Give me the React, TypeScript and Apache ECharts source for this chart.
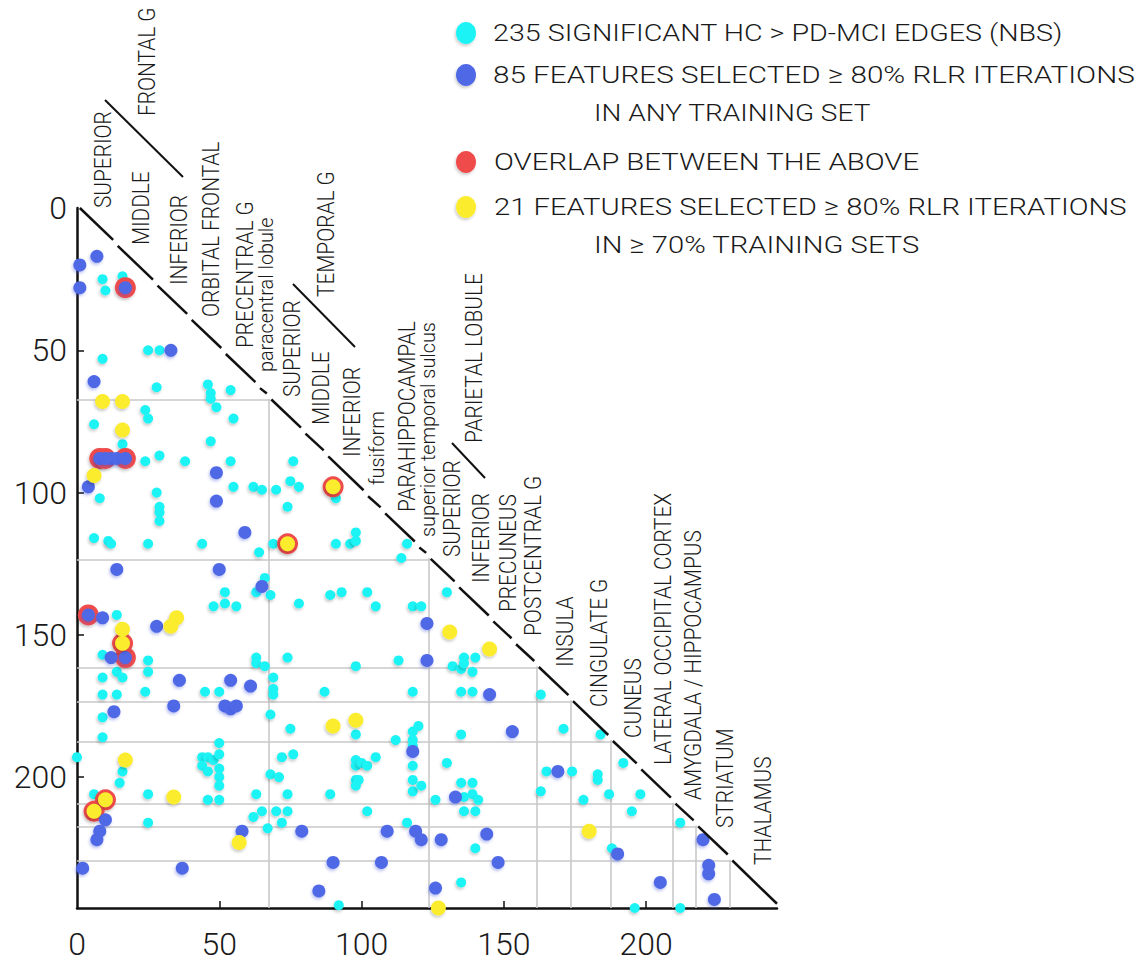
import React, { useEffect, useRef } from "react";
import * as echarts from "echarts";

// ---------- DATA ----------
const axisTicks = [0, 50, 100, 150, 200];
const innerTicks = [50, 100, 150, 200];
const matrixSize = 246;
// region boundaries with grid lines (between node indices)
const gridBounds = [67.5, 123.5, 161.5, 173.5, 187.5, 209.5, 217.5, 229.5];
// sub-region boundaries (breaks in the diagonal)
const diagBreaks = [0, 14, 28, 40, 52, 64, 68, 80, 88, 102, 108, 120, 124, 134, 146, 154, 162, 174, 188, 198, 210, 218, 230, 246];

const cyanEdges: number[][] = [
  [16, 24], [9, 25], [10, 29], [25, 50], [29, 50], [9, 53], [28, 63], [46, 62], [47, 65], [47, 67], [49, 70], [54, 64],
  [24, 71], [25, 74], [6, 76], [55, 74], [16, 83], [47, 82], [24, 89], [29, 87], [38, 89], [54, 89], [76, 89],
  [8, 102], [28, 100], [29, 105], [29, 107], [29, 110], [55, 98], [62, 98], [65, 99], [70, 99], [75, 96], [78, 98],
  [74, 105], [91, 102], [6, 116], [11, 117], [12, 118], [25, 118], [44, 118], [64, 121], [69, 118], [91, 118],
  [66, 130], [63, 135], [68, 136], [78, 139], [89, 136], [93, 135], [52, 135], [52, 139], [56, 140], [48, 140],
  [14, 143], [9, 157], [25, 159], [25, 163], [63, 158], [63, 160], [66, 161], [74, 158], [14, 163], [16, 165],
  [9, 165], [69, 165], [69, 169], [69, 171], [9, 171], [14, 171], [24, 170], [45, 170], [50, 170], [87, 170],
  [9, 179], [68, 178], [75, 183],
  [9, 186], [50, 188], [0, 193], [16, 198], [15, 202], [44, 193], [46, 193], [48, 194], [50, 192], [44, 196],
  [46, 198], [50, 197], [50, 200], [50, 203], [72, 193], [76, 192], [68, 199], [71, 200], [6, 206], [25, 206],
  [46, 208], [50, 208], [63, 206], [74, 206], [89, 206], [65, 212], [62, 214], [70, 212], [74, 212], [72, 216],
  [67, 218], [25, 216], [92, 245],
  [96, 118], [98, 114], [98, 117], [116, 118], [114, 123], [102, 135], [105, 140], [118, 140], [121, 140],
  [130, 135], [98, 161], [113, 159], [132, 161], [136, 158], [135, 162], [139, 163], [140, 158], [136, 160],
  [118, 170], [135, 170], [139, 170], [163, 171], [120, 182],
  [98, 185], [112, 187], [118, 184], [118, 187], [118, 189], [118, 196], [135, 185], [98, 194], [98, 196],
  [100, 195], [102, 196], [98, 201], [99, 201], [98, 203], [105, 193], [118, 201], [118, 205], [121, 203],
  [130, 195], [135, 202], [139, 202], [139, 206], [141, 208], [136, 207], [126, 208], [136, 212], [140, 212],
  [102, 212], [163, 205], [165, 198], [116, 216], [140, 225], [135, 237],
  [171, 183], [184, 185], [174, 198], [183, 199], [183, 201], [192, 195], [178, 208], [187, 206], [198, 206],
  [195, 212], [188, 225], [212, 216], [196, 246], [212, 246],
];

const blueFeatures: number[][] = [
  [7, 17], [1, 20], [1, 28], [33, 50], [6, 61], [12, 88], [14, 88], [49, 93], [4, 98], [49, 103], [59, 114],
  [14, 127], [50, 127], [65, 133], [9, 144], [28, 147], [12, 158], [36, 166], [54, 166], [61, 168], [34, 175],
  [52, 175], [54, 176], [56, 175], [13, 177], [10, 215], [8, 219], [7, 222], [58, 219], [79, 219], [2, 232],
  [37, 232], [90, 230], [85, 240], [123, 146], [123, 159], [145, 171], [153, 184], [118, 191], [133, 207],
  [169, 198], [109, 219], [119, 219], [121, 222], [128, 222], [144, 220], [148, 230], [107, 230], [126, 239],
  [190, 227], [220, 222], [222, 231], [222, 234], [205, 237], [224, 243],
];

const overlapBlue: number[][] = [[17, 28], [8, 88], [10, 88], [17, 88], [4, 143], [17, 158]];
const overlapYellow: number[][] = [[90, 98], [74, 118], [16, 153], [10, 208], [6, 212]];
const yellowFeatures: number[][] = [
  [9, 68], [16, 68], [16, 78], [6, 94], [35, 144], [33, 147], [16, 148], [90, 182], [17, 194], [34, 207],
  [57, 223], [131, 149], [145, 155], [98, 180], [127, 246], [180, 219],
];

const legendLines = [
  "235 SIGNIFICANT HC > PD-MCI EDGES (NBS)",
  "85 FEATURES SELECTED \u2265 80% RLR ITERATIONS",
  "IN ANY TRAINING SET",
  "OVERLAP BETWEEN THE ABOVE",
  "21 FEATURES SELECTED \u2265 80% RLR ITERATIONS",
  "IN \u2265 70% TRAINING SETS",
];

// ---------- STYLE ----------
const FONT = 'Roboto, "Liberation Sans", sans-serif';
const WEIGHT = 300;
const TEXT = "#1a1a1a";
const CYAN = "#1cf3f5";
const BLUE = "#5069e6";
const RED = "#ef4b4b";
const YELLOW = "#fcec2e";

function measure(text: string, size: number) {
  const ctx = document.createElement("canvas").getContext("2d")!;
  ctx.font = `${WEIGHT} ${size}px ${FONT}`;
  return ctx.measureText(text).width;
}

export default function App() {
  const ref = useRef<HTMLDivElement>(null);
  useEffect(() => {
    if (!ref.current) return;
    const chart = echarts.init(ref.current, null, { renderer: "svg" });

    const CAP = 24;
    const SMALL = 21;
    const LEG = 24.5;
    const capScale = 272 / measure("LATERAL OCCIPITAL CORTEX", CAP);
    const smallScale = 215 / measure("superior temporal sulcus", SMALL);

    // label layout: [text, centerX, bottomY, small]
    const labels: [string, number, number, boolean][] = [
      ["SUPERIOR", 102, 208, false],
      ["MIDDLE", 140, 245, false],
      ["INFERIOR", 178, 285, false],
      ["ORBITAL FRONTAL", 210, 317, false],
      ["PRECENTRAL G", 244, 348, false],
      ["paracentral lobule", 266, 372, true],
      ["FRONTAL G", 146, 116, false],
      ["TEMPORAL G", 325, 297, false],
      ["SUPERIOR", 291, 397, false],
      ["MIDDLE", 320, 425, false],
      ["INFERIOR", 351, 457, false],
      ["fusiform", 377, 485, true],
      ["PARAHIPPOCAMPAL", 406, 512, false],
      ["superior temporal sulcus", 428, 537, true],
      ["PARIETAL LOBULE", 473, 443, false],
      ["SUPERIOR", 451, 557, false],
      ["INFERIOR", 480, 583, false],
      ["PRECUNEUS", 507, 612, false],
      ["POSTCENTRAL G", 532, 636, false],
      ["INSULA", 564, 667, false],
      ["CINGULATE G", 598, 707, false],
      ["CUNEUS", 632, 738, false],
      ["LATERAL OCCIPITAL CORTEX", 662, 765, false],
      ["AMYGDALA / HIPPOCAMPUS", 692, 800, false],
      ["STRIATUM", 724, 828, false],
      ["THALAMUS", 762, 865, false],
    ];

    const graphics: any[] = [];
    labels.forEach(([t, x, y, small]) => {
      graphics.push({
        type: "text",
        x,
        y,
        rotation: Math.PI / 2,
        scaleX: small ? smallScale : capScale,
        silent: true,
        style: {
          text: t,
          fill: TEXT,
          font: `${WEIGHT} ${small ? SMALL : CAP}px ${FONT}`,
          fontSize: small ? SMALL : CAP,
          fontWeight: WEIGHT,
          fontFamily: FONT,
          align: "left",
          textAlign: "left",
          verticalAlign: "middle",
          textVerticalAlign: "middle",
        },
      });
    });
    // group brackets
    [
      [105, 100, 183, 177],
      [293, 284, 355, 347],
      [452, 443, 485, 478],
    ].forEach(([x1, y1, x2, y2]) => {
      graphics.push({
        type: "line",
        silent: true,
        shape: { x1, y1, x2, y2 },
        style: { stroke: "#111", lineWidth: 2 },
      });
    });
    // legend
    const legColors = [CYAN, BLUE, RED, YELLOW];
    const legMarkY = [33, 75, 162, 207];
    legColors.forEach((c, i) => {
      graphics.push({
        type: "ellipse",
        silent: true,
        shape: { cx: 466, cy: legMarkY[i], rx: 10, ry: 11 },
        style: { fill: c, shadowBlur: 3, shadowColor: "rgba(0,0,0,0.2)", shadowOffsetX: -1, shadowOffsetY: 2 },
      });
    });
    // [left, centerY, width]
    const legPos = [
      [493, 33, 570],
      [493, 75, 642],
      [594, 113, 277],
      [494, 162, 426],
      [494, 207, 633],
      [594, 245, 326],
    ];
    legendLines.forEach((t, i) => {
      graphics.push({
        type: "text",
        silent: true,
        x: legPos[i][0],
        y: legPos[i][1],
        scaleX: legPos[i][2] / measure(t, LEG),
        style: {
          text: t,
          fill: TEXT,
          font: `${WEIGHT} ${LEG}px ${FONT}`,
          fontSize: LEG,
          fontWeight: WEIGHT,
          fontFamily: FONT,
          align: "left",
          textAlign: "left",
          verticalAlign: "middle",
          textVerticalAlign: "middle",
        },
      });
    });

    const gridSegs: any[] = [];
    gridBounds.forEach((b) => {
      gridSegs.push({ coords: [[0, b], [b + 0.5, b]] });
      gridSegs.push({ coords: [[b, b - 0.5], [b, matrixSize]] });
    });
    const diagSegs: any[] = [];
    const gap = 0.8;
    for (let i = 0; i < diagBreaks.length - 1; i++) {
      const a = i === 0 ? 1 : diagBreaks[i] - 0.5 + gap;
      const c = i === diagBreaks.length - 2 ? matrixSize : diagBreaks[i + 1] - 0.5 - gap;
      diagSegs.push({ coords: [[a, a - 1], [c, c - 1.5]] });
    }

    const shadow = { shadowBlur: 3, shadowColor: "rgba(0,0,0,0.22)", shadowOffsetX: -1, shadowOffsetY: 2 };

    chart.setOption({
      animation: false,
      backgroundColor: "#ffffff",
      grid: { left: 77, top: 208, width: 700, height: 700, containLabel: false },
      xAxis: {
        type: "value",
        min: 0,
        max: matrixSize,
        interval: 50,
        position: "bottom",
        axisLine: { onZero: false, lineStyle: { color: "#111", width: 2.5 } },
        axisTick: { inside: true, length: 7, customValues: innerTicks, lineStyle: { color: "#111", width: 1.5 } },
        axisLabel: { customValues: axisTicks, fontSize: 32, fontWeight: WEIGHT, fontFamily: FONT, color: TEXT, margin: 20 },
        splitLine: { show: false },
      },
      yAxis: {
        type: "value",
        min: 0,
        max: matrixSize,
        interval: 50,
        inverse: true,
        axisLine: { onZero: false, lineStyle: { color: "#111", width: 2.5 } },
        axisTick: { inside: true, length: 7, customValues: innerTicks, lineStyle: { color: "#111", width: 1.5 } },
        axisLabel: { customValues: axisTicks, fontSize: 32, fontWeight: WEIGHT, fontFamily: FONT, color: TEXT, margin: 10 },
        splitLine: { show: false },
      },
      graphic: graphics,
      series: [
        {
          type: "lines",
          coordinateSystem: "cartesian2d",
          silent: true,
          z: 1,
          data: gridSegs,
          lineStyle: { color: "#c9c9c9", width: 1.6, opacity: 1 },
        },
        {
          type: "lines",
          coordinateSystem: "cartesian2d",
          silent: true,
          z: 6,
          data: diagSegs,
          lineStyle: { color: "#111", width: 2.5, opacity: 1 },
        },
        {
          type: "scatter",
          name: "NBS",
          z: 2,
          symbolSize: 10,
          data: cyanEdges,
          itemStyle: { color: CYAN, opacity: 1, ...shadow },
        },
        {
          type: "scatter",
          name: "overlap",
          z: 3,
          symbolSize: 21,
          data: [...overlapBlue, ...overlapYellow],
          itemStyle: { color: RED, opacity: 1, ...shadow },
        },
        {
          type: "scatter",
          name: "rlr",
          z: 4,
          symbolSize: 13,
          data: [...blueFeatures, ...overlapBlue],
          itemStyle: { color: BLUE, opacity: 1, ...shadow, shadowColor: "rgba(60,80,220,0.35)" },
        },
        {
          type: "scatter",
          name: "rlr70",
          z: 5,
          symbolSize: 15,
          data: [...yellowFeatures, ...overlapYellow],
          itemStyle: { color: YELLOW, opacity: 1, ...shadow },
        },
      ],
    });
    return () => chart.dispose();
  }, []);
  return (
    <div
      ref={ref}
      style={{ position: "absolute", left: 0, top: 0, width: 1143, height: 969, background: "#fff" }}
    />
  );
}
